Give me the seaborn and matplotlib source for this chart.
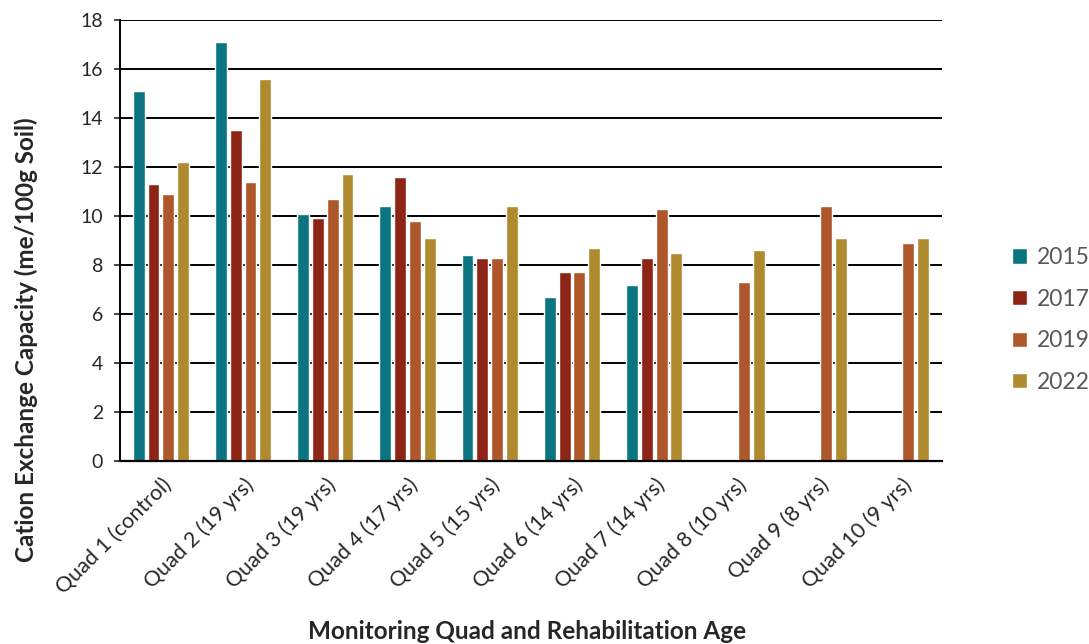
import seaborn as sns
import numpy as np
import pandas as pd
import matplotlib.pyplot as plt

quads = ["Quad 1 (control)", "Quad 2 (19 yrs)", "Quad 3 (19 yrs)", "Quad 4 (17 yrs)",
         "Quad 5 (15 yrs)", "Quad 6 (14 yrs)", "Quad 7 (14 yrs)", "Quad 8 (10 yrs)",
         "Quad 9 (8 yrs)", "Quad 10 (9 yrs)"]
years = ["2015", "2017", "2019", "2022"]
cec_2015 = [15.1, 17.1, 10.1, 10.4, 8.4, 6.7, 7.2, np.nan, np.nan, np.nan]
cec_2017 = [11.3, 13.5, 9.9, 11.6, 8.3, 7.7, 8.3, np.nan, np.nan, np.nan]
cec_2019 = [10.9, 11.4, 10.7, 9.8, 8.3, 7.7, 10.3, 7.3, 10.4, 8.9]
cec_2022 = [12.2, 15.6, 11.7, 9.1, 10.4, 8.7, 8.5, 8.6, 9.1, 9.1]
colors = ["#0A7580", "#8E2415", "#AD572A", "#AF8A2F"]

df = pd.DataFrame({"quad": quads * 4,
                   "year": np.repeat(years, len(quads)),
                   "cec": cec_2015 + cec_2017 + cec_2019 + cec_2022})

sns.set_style("white")
plt.rcParams["font.family"] = ["Lato", "DejaVu Sans"]

fig = plt.figure(figsize=(10.89, 6.44), dpi=100)
ax = fig.add_axes([0.110, 0.284, 0.755, 0.685])

ax.set_axisbelow(True)
ax.yaxis.grid(True, color="black", linewidth=1.4)
sns.barplot(data=df, x="quad", y="cec", hue="year", palette=colors,
            width=0.72, gap=0.2, ax=ax, saturation=1)

ax.set_ylim(0, 18)
ax.set_yticks(range(0, 19, 2))
ax.set_xlim(-0.5, len(quads) - 0.5)
for s in ["top", "right"]:
    ax.spines[s].set_visible(False)
ax.spines["left"].set_color("black")
ax.spines["bottom"].set_color("black")
ax.spines["left"].set_linewidth(1.4)
ax.spines["bottom"].set_linewidth(1.6)
ax.tick_params(axis="y", left=True, length=4, width=1.2, labelsize=14, pad=8)
ax.tick_params(axis="x", bottom=False, labelsize=15.5, pad=6)
plt.setp(ax.get_xticklabels(), rotation=45, ha="right", rotation_mode="anchor")

ax.set_ylabel("Cation Exchange Capacity (me/100g Soil)", fontsize=17.5, fontweight="bold")
ax.yaxis.set_label_coords(-0.100, 0.275)
ax.set_xlabel("Monitoring Quad and Rehabilitation Age", fontsize=17.5, fontweight="bold")
ax.xaxis.set_label_coords(0.495, -0.36)

ax.legend(loc="center left", bbox_to_anchor=(1.06, 0.32), frameon=False, fontsize=16.5,
          labelspacing=0.9, handlelength=0.65, handleheight=0.65, handletextpad=0.45,
          labelcolor="#595959")

fig.savefig("out.png", dpi=100)
